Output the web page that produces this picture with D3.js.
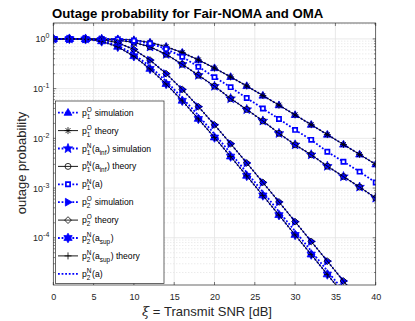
<!DOCTYPE html>
<html><head><meta charset="utf-8">
<script src="https://cdn.jsdelivr.net/npm/d3@7"></script>
<style>
body{margin:0;background:#fff}
svg{display:block}
text{font-family:"Liberation Sans",Arial,Helvetica,sans-serif}
</style>
</head><body>
<svg id="chart" width="415" height="321"></svg>
<script>
// ---------------- data ----------------
const snrDb = [0,2,4,6,8,10,12,14,16,18,20,22,24,26,28,30,32,34,36,38,40];
const p1O    = [1,1,1,0.9994,0.991,0.950,0.849,0.697,0.530,0.379,0.259,0.172,0.113,0.0726,0.0465,0.0296,0.0188,0.0119,0.00752,0.00475,0.0030];
const p1NInf = [1,1,0.998,0.984,0.944,0.851,0.692,0.49,0.309,0.186,0.112,0.0631,0.038,0.0224,0.0126,0.00741,0.00468,0.00275,0.0017,0.00105,0.00063];
const p1NA   = [1,1,1,0.995,0.977,0.92,0.81,0.63,0.437,0.275,0.170,0.107,0.0646,0.0398,0.0245,0.0148,0.00933,0.00537,0.00339,0.00214,0.00129];
const p2O    = [1,1,0.9976,0.966,0.839,0.613,0.375,0.200,0.0964,0.0434,0.0187,0.0078,0.0032,0.0013,5.26e-4,2.11e-4,8.45e-5,3.39e-5,1.35e-5,5.4e-6,2.1e-6];
const p2NSup = [1,0.9993,0.983,0.894,0.694,0.449,0.249,0.124,0.057,0.0246,0.0104,0.0043,0.00176,7.1e-4,2.86e-4,1.14e-4,4.6e-5,1.83e-5,7.3e-6,2.9e-6,1.15e-6];
const p2NA   = [1,0.9996,0.987,0.912,0.735,0.491,0.279,0.141,0.0655,0.0289,0.0122,0.00503,0.00206,8.37e-4,3.36e-4,1.36e-4,5.42e-5,2.16e-5,8.6e-6,3.4e-6,1.36e-6];
const legendLabels = [
  "p_1^O simulation","p_1^O theory",
  "p_1^N(a_{inf}) simulation","p_1^N(a_{inf}) theory",
  "p_1^N(a)",
  "p_2^O simulation","p_2^O theory",
  "p_2^N(a_{sup})","p_2^N(a_{sup}) theory",
  "p_2^N(a)"
];
const xTicks = [0,5,10,15,20,25,30,35,40];
const yTickExps = [0,-1,-2,-3,-4];
const titleText = "Outage probability for Fair-NOMA and OMA";
const xLabelText = "\u03BE = Transmit SNR [dB]";
const yLabelText = "outage probability";

// ---------------- series (data + style) ----------------
const seriesData = [p1O,p1O,p1NInf,p1NInf,p1NA,p2O,p2O,p2NSup,p2NSup,p2NA];
const styles = [
  {kind:"sim", marker:"tri"},
  {kind:"th",  marker:"ast"},
  {kind:"sim", marker:"pent"},
  {kind:"th",  marker:"circ"},
  {kind:"sim", marker:"sq"},
  {kind:"sim", marker:"rtri"},
  {kind:"th",  marker:"diam"},
  {kind:"sim", marker:"hex"},
  {kind:"th",  marker:"plus"},
  {kind:"sim", marker:null}
];

// ---------------- layout ----------------
const L = 53.3, R = 375.7, T = 23, B = 285;
const svg = d3.select("#chart");
const x = d3.scaleLinear().domain([0,40]).range([L,R]);
const y = d3.scaleLog().domain([Math.pow(10,-4.95), Math.pow(10,0.32)]).range([B,T]);
const BLUE = "#0000ff";
const AX = "#262626";

svg.append("defs").append("clipPath").attr("id","clip")
  .append("rect").attr("x",L).attr("y",T).attr("width",R-L).attr("height",B-T);

svg.append("rect").attr("x",L).attr("y",T).attr("width",R-L).attr("height",B-T).attr("fill","#fff");

// grid
const minorVals = [];
for (let e=-5;e<=0;e++) for (let m=2;m<=9;m++){ const v=m*Math.pow(10,e); if (v>=y.domain()[0] && v<=y.domain()[1]) minorVals.push(v); }
const grid = svg.append("g");
grid.selectAll("line.mn").data(minorVals).join("line")
  .attr("x1",L).attr("x2",R).attr("y1",d=>y(d)).attr("y2",d=>y(d))
  .attr("stroke","#d0d0d0").attr("stroke-width",0.6).attr("stroke-dasharray","1,2");
grid.selectAll("line.mjy").data(yTickExps).join("line")
  .attr("x1",L).attr("x2",R).attr("y1",d=>y(Math.pow(10,d))).attr("y2",d=>y(Math.pow(10,d)))
  .attr("stroke","#e3e3e3").attr("stroke-width",0.8);
grid.selectAll("line.mjx").data(xTicks.slice(1,-1)).join("line")
  .attr("x1",d=>x(d)).attr("x2",d=>x(d)).attr("y1",T).attr("y2",B)
  .attr("stroke","#e3e3e3").attr("stroke-width",0.8);

// ---------------- markers ----------------
function starPath(n, ro, ri){
  let p="";
  for(let i=0;i<2*n;i++){
    const a = -Math.PI/2 + i*Math.PI/n;
    const r = i%2===0?ro:ri;
    p += (i===0?"M":"L")+(r*Math.cos(a)).toFixed(2)+","+(r*Math.sin(a)).toFixed(2);
  }
  return p+"Z";
}
function markerPath(type){
  switch(type){
    case "tri": return "M0,-4.2L3.9,2.6L-3.9,2.6Z";
    case "rtri": return "M4.2,0L-2.6,-3.9L-2.6,3.9Z";
    case "pent": return starPath(5,5,2.1);
    case "hex": return starPath(6,4.8,2.8);
    case "sq": return "M-2.1,-2.1H2.1V2.1H-2.1Z";
    case "diam": return "M0,-3.4L3.4,0L0,3.4L-3.4,0Z";
    case "circ": return "M3,0A3,3 0 1,1 -3,0A3,3 0 1,1 3,0Z";
    case "plus": return "M-3.5,0H3.5M0,-3.5V3.5";
    case "ast": return "M-3.5,0H3.5M0,-3.5V3.5M-2.5,-2.5L2.5,2.5M-2.5,2.5L2.5,-2.5";
  }
  return "";
}
function markerStyle(sel, st){
  const t = st.marker;
  if (st.kind==="sim"){
    if (t==="sq") sel.attr("fill","#fff").attr("stroke",BLUE).attr("stroke-width",1.7);
    else sel.attr("fill",BLUE).attr("stroke",BLUE).attr("stroke-width",0.8);
  } else {
    sel.attr("fill","none").attr("stroke","#000").attr("stroke-width",0.8);
  }
}

// ---------------- curves ----------------
const plot = svg.append("g").attr("clip-path","url(#clip)");
const line = d3.line().x(d=>x(d[0])).y(d=>y(d[1]));
seriesData.forEach((vals,i)=>{
  const st = styles[i];
  const pts = snrDb.map((s,j)=>[s,vals[j]]);
  const g = plot.append("g");
  g.append("path").attr("d",line(pts)).attr("fill","none")
    .attr("stroke", st.kind==="sim"?BLUE:"#000")
    .attr("stroke-width", st.kind==="sim"?1.8:0.9)
    .attr("stroke-dasharray", st.kind==="sim"?"1.8,1.8":null);
  if (st.marker){
    g.selectAll("path.m").data(pts).join("path").attr("class","m")
      .attr("transform",d=>`translate(${x(d[0])},${y(d[1])})`)
      .attr("d",markerPath(st.marker))
      .call(markerStyle, st);
  }
});

// ---------------- axes box & ticks ----------------
const axes = svg.append("g");
axes.append("rect").attr("x",L).attr("y",T).attr("width",R-L).attr("height",B-T)
  .attr("fill","none").attr("stroke",AX).attr("stroke-width",0.7);
const xAxisB = d3.axisBottom(x).tickValues(xTicks).tickSize(0).tickPadding(9);
const gxb = axes.append("g").attr("transform",`translate(0,${B})`).call(xAxisB);
gxb.select(".domain").remove();
gxb.selectAll("text").attr("font-size",9).attr("fill",AX).attr("font-family","Liberation Sans, Arial, sans-serif");
xTicks.forEach(v=>{
  axes.append("line").attr("x1",x(v)).attr("x2",x(v)).attr("y1",B).attr("y2",B-3).attr("stroke",AX).attr("stroke-width",0.6);
  axes.append("line").attr("x1",x(v)).attr("x2",x(v)).attr("y1",T).attr("y2",T+3).attr("stroke",AX).attr("stroke-width",0.6);
});
yTickExps.forEach(e=>{
  const yy = y(Math.pow(10,e));
  axes.append("line").attr("x1",L).attr("x2",L+3).attr("y1",yy).attr("y2",yy).attr("stroke",AX).attr("stroke-width",0.6);
  axes.append("line").attr("x1",R).attr("x2",R-3).attr("y1",yy).attr("y2",yy).attr("stroke",AX).attr("stroke-width",0.6);
  const t = axes.append("text").attr("x",L-4).attr("y",yy+3.5).attr("text-anchor","end").attr("font-size",9).attr("fill",AX);
  t.append("tspan").text("10");
  t.append("tspan").attr("dy",-4).attr("font-size",7).text(e===0?"0":"-"+(-e));
});
minorVals.forEach(v=>{
  const yy=y(v);
  axes.append("line").attr("x1",L).attr("x2",L+1.8).attr("y1",yy).attr("y2",yy).attr("stroke",AX).attr("stroke-width",0.5);
  axes.append("line").attr("x1",R).attr("x2",R-1.8).attr("y1",yy).attr("y2",yy).attr("stroke",AX).attr("stroke-width",0.5);
});

// ---------------- labels ----------------
svg.append("text").attr("x",52).attr("y",18).attr("text-anchor","start")
  .attr("font-size",13.2).attr("font-weight","bold").attr("fill","#000").text(titleText);
const xl = svg.append("text").attr("x",207).attr("y",316).attr("text-anchor","middle")
  .attr("font-size",13).attr("fill",AX);
xl.append("tspan").attr("font-style","italic").attr("font-family","DejaVu Serif, serif").text("\u03BE");
xl.append("tspan").text(" = Transmit SNR [dB]");
svg.append("text").attr("transform",`translate(26,163) rotate(-90)`).attr("text-anchor","middle")
  .attr("font-size",13).attr("fill",AX).text(yLabelText);

// ---------------- legend ----------------
const lg = svg.append("g");
const LX = 55.5, LY = 101, LW = 108.5, LH = 182.5;
lg.append("rect").attr("x",LX).attr("y",LY).attr("width",LW).attr("height",LH)
  .attr("fill","#fff").attr("stroke",AX).attr("stroke-width",0.7);

function parseTex(s){
  const out=[]; let i=0;
  while(i<s.length){
    const c=s[i];
    if(c==="^"||c==="_"){
      let txt; i++;
      if(s[i]==="{"){ const j=s.indexOf("}",i); txt=s.slice(i+1,j); i=j+1; }
      else { txt=s[i]; i++; }
      out.push({t:txt, mode:c==="^"?"sup":"sub"});
    } else {
      let j=i; while(j<s.length && s[j]!=="^" && s[j]!=="_") j++;
      out.push({t:s.slice(i,j), mode:"n"}); i=j;
    }
  }
  return out;
}
function drawTex(g, s, x0, y0, fs){
  const toks = parseTex(s);
  let cx = x0;
  let i=0;
  while(i<toks.length){
    const tk = toks[i];
    if(tk.mode==="n"){
      const t=g.append("text").attr("x",cx).attr("y",y0).attr("font-size",fs).attr("fill","#000").attr("xml:space","preserve").style("white-space","pre").text(tk.t);
      cx += t.node().getComputedTextLength(); i++;
    } else {
      let w=0;
      while(i<toks.length && toks[i].mode!=="n"){
        const k=toks[i];
        const t=g.append("text").attr("x",cx).attr("y",y0+(k.mode==="sup"?-3.8:3.0)).attr("font-size",fs*0.75).attr("fill","#000").text(k.t);
        w=Math.max(w,t.node().getComputedTextLength()); i++;
      }
      cx += w + 0.6;
    }
  }
}
const rowH = 17.9;
legendLabels.forEach((lab,i)=>{
  const st = styles[i];
  const cy = LY + 11.7 + i*rowH;
  lg.append("line").attr("x1",58).attr("x2",78).attr("y1",cy).attr("y2",cy)
    .attr("stroke", st.kind==="sim"?BLUE:"#000")
    .attr("stroke-width", st.kind==="sim"?1.8:0.9)
    .attr("stroke-dasharray", st.kind==="sim"?"1.8,1.8":null);
  if(st.marker){
    lg.append("path").attr("transform",`translate(68,${cy})`).attr("d",markerPath(st.marker)).call(markerStyle, st);
  }
  drawTex(lg, lab, 82, cy+3, 8.6);
});
</script>
</body></html>
